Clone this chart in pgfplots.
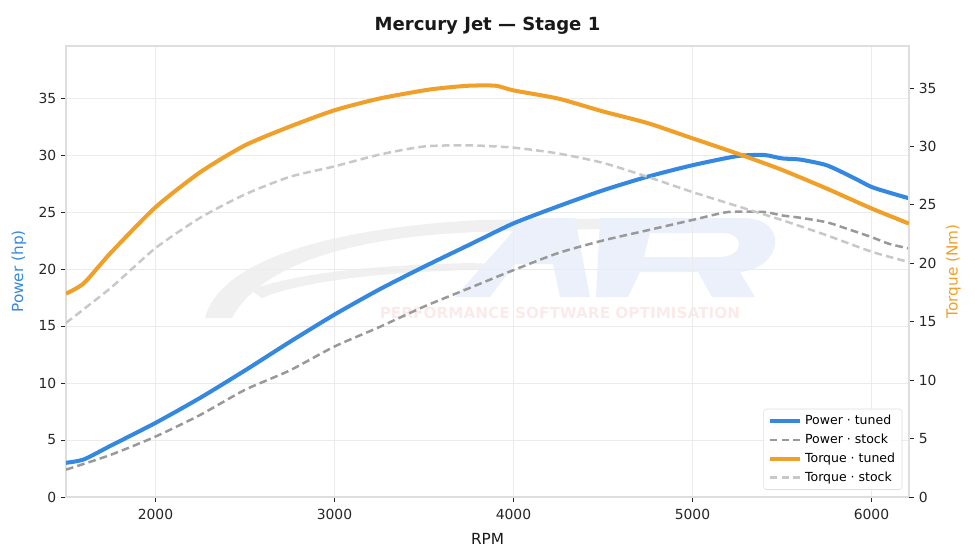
\documentclass[border=0pt]{standalone}
\usepackage{pgfplots}
\pgfplotsset{compat=1.18}
\usepackage{fontspec}
\setmainfont{DejaVu Sans}
\definecolor{ptuned}{HTML}{3488E0}
\definecolor{pstock}{HTML}{999999}
\definecolor{ttuned}{HTML}{F0A028}
\definecolor{tstock}{HTML}{C8C8C8}
\definecolor{gridc}{HTML}{EBEBEB}
\definecolor{spine}{HTML}{DEDEDE}
\definecolor{wmgray}{HTML}{F0F0F0}
\definecolor{wmblue}{HTML}{EBF0FB}
\definecolor{wmpink}{HTML}{FBEAEA}
\begin{document}
\begin{tikzpicture}
\path[use as bounding box] (0,0) rectangle (702pt,402.48pt);
% watermark (pixel coordinates)
\begin{scope}[x=0.72pt,y=-0.72pt,shift={(0,402.48pt)}]
\fill[wmgray] (205,318) .. controls (220,260) and (330,228) .. (480,220) -- (640,218) -- (640,228) -- (480,232) .. controls (360,236) and (262,262) .. (232,318) -- cycle;
\fill[wmgray] (250,290) .. controls (300,272) and (380,265) .. (470,263) -- (520,265) -- (470,270) .. controls (380,272) and (300,282) .. (262,298) -- cycle;
\fill[wmblue] (455,297) -- (525,218) -- (575,218) -- (590,297) -- (560,297) -- (553,264) -- (515,264) -- (490,297) -- cycle;
\fill[wmblue,even odd rule] (600,218) -- (745,218) .. controls (790,220) and (782,268) .. (740,272) -- (755,297) -- (712,297) -- (698,272) -- (640,272) -- (628,297) -- (596,297) -- cycle
  (650,233) -- (722,233) .. controls (745,233) and (745,256) .. (720,257) -- (644,257) -- cycle;
\node[text=wmpink,font=\fontsize{11}{11}\selectfont\bfseries] at (560,313) {PERFORMANCE SOFTWARE OPTIMISATION};
\end{scope}
\begin{axis}[
  at={(47.52pt,44.64pt)}, anchor=south west,
  width=606.96pt, height=324.72pt, scale only axis,
  xmin=1500, xmax=6210, ymin=0, ymax=39.56,
  xtick={2000,3000,4000,5000,6000},
  ytick={0,5,...,35},
  axis line style={spine, line width=0.8pt, -},
  tick style={black!85, line width=0.6pt},
  tick align=outside, major tick length=3.5pt,
  xtick pos=bottom, ytick pos=left,
  grid=major, major grid style={gridc, line width=0.6pt},
  tick label style={font=\fontsize{10}{12}\selectfont, text=black!85},
  xticklabel style={yshift=-1.5pt},
  /pgf/number format/assume math mode=true,
  /pgf/number format/1000 sep={},
  xlabel={RPM}, ylabel={Power (hp)},
  xlabel style={font=\fontsize{11}{13}\selectfont, text=black!90, yshift=-3pt},
  ylabel style={font=\fontsize{11}{13}\selectfont, text=ptuned, yshift=2pt},
  title={Mercury Jet — Stage 1},
  title style={font=\fontsize{13}{15}\selectfont\bfseries, text=black!90, yshift=-1pt},
  clip=true,
]
\addplot[pstock, line width=1.8pt, dash pattern=on 5.5pt off 3pt, smooth, tension=0.4] coordinates {
(1500,2.4)(1750,3.7)(2000,5.3)(2250,7.2)(2500,9.4)(2750,11.1)(3000,13.2)(3250,14.9)(3500,16.7)(3750,18.3)(4000,19.9)(4250,21.4)(4500,22.5)(4750,23.4)(5000,24.3)(5200,25.0)(5400,25.0)(5500,24.7)(5600,24.5)(5750,24.1)(5850,23.6)(6000,22.8)(6100,22.2)(6210,21.8)};
\addplot[ptuned, line width=2.9pt, smooth, tension=0.4] coordinates {
(1500,3.0)(1600,3.3)(1750,4.5)(2000,6.5)(2250,8.7)(2500,11.1)(2750,13.6)(3000,16.0)(3250,18.2)(3500,20.2)(3750,22.1)(4000,24.0)(4250,25.5)(4500,26.9)(4750,28.1)(5000,29.1)(5250,29.9)(5400,30.0)(5500,29.7)(5600,29.6)(5750,29.1)(5900,28.0)(6000,27.2)(6100,26.7)(6210,26.2)};
\end{axis}
\begin{axis}[
  at={(47.52pt,44.64pt)}, anchor=south west,
  width=606.96pt, height=324.72pt, scale only axis,
  xmin=1500, xmax=6210, ymin=0, ymax=38.6,
  axis x line=none, axis y line*=right,
  axis line style={spine, line width=0.8pt, -},
  ytick={0,5,...,35},
  tick style={black!85, line width=0.6pt},
  tick align=outside, major tick length=3.5pt,
  tick label style={font=\fontsize{10}{12}\selectfont, text=black!85},
  /pgf/number format/assume math mode=true,
  ylabel={Torque (Nm)},
  ylabel style={font=\fontsize{11}{13}\selectfont, text=ttuned},
  legend style={at={(0.992,0.016)}, anchor=south east, font=\fontsize{9}{11}\selectfont,
    draw=spine, rounded corners=2pt, fill=white, fill opacity=0.85, text opacity=1,
    row sep=1.2pt, inner xsep=3pt, inner ysep=2.5pt},
  legend cell align=left,
  legend image code/.code={\draw[#1] (0pt,0pt) -- (22pt,0pt);},
]
\addlegendimage{ptuned, line width=2.9pt}
\addlegendentry{Power · tuned}
\addlegendimage{pstock, line width=1.8pt, dash pattern=on 5.5pt off 3pt}
\addlegendentry{Power · stock}
\addplot[tstock, line width=1.8pt, dash pattern=on 5.5pt off 3pt, smooth, tension=0.4, forget plot] coordinates {
(1500,14.9)(1750,17.9)(2000,21.3)(2250,23.9)(2500,25.9)(2750,27.4)(3000,28.3)(3250,29.3)(3500,30.0)(3750,30.1)(4000,29.9)(4250,29.4)(4500,28.6)(4750,27.4)(5000,26.1)(5250,24.9)(5500,23.7)(5750,22.4)(6000,21.0)(6210,20.1)};
\addplot[ttuned, line width=2.9pt, smooth, tension=0.4] coordinates {
(1500,17.4)(1600,18.3)(1750,20.9)(2000,24.8)(2250,27.8)(2500,30.1)(2750,31.7)(3000,33.1)(3250,34.1)(3500,34.8)(3600,35.0)(3750,35.2)(3900,35.2)(4000,34.8)(4250,34.1)(4500,33.0)(4750,32.0)(5000,30.7)(5250,29.4)(5500,28.0)(5750,26.4)(6000,24.7)(6210,23.4)};
\addlegendentry{Torque · tuned}
\addlegendimage{tstock, line width=1.8pt, dash pattern=on 5.5pt off 3pt}
\addlegendentry{Torque · stock}
\end{axis}
\end{tikzpicture}
\end{document}
